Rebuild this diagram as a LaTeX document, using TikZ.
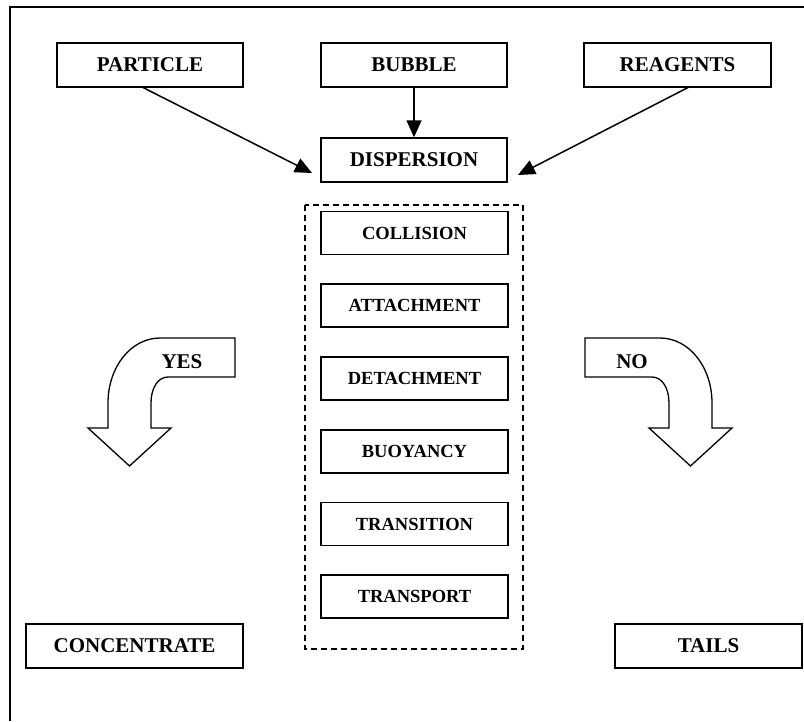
\documentclass[tikz,border=0pt]{standalone}
\usepackage{fontspec}
\setmainfont{Liberation Serif}
\usetikzlibrary{arrows.meta}
\begin{document}
\begin{tikzpicture}[x=1pt,y=-1pt,
  bigbox/.style={draw,line width=1.4pt,minimum height=44pt,inner sep=0pt,font=\bfseries\fontsize{21}{25}\selectfont},
  smallbox/.style={draw,line width=1.4pt,minimum width=187pt,minimum height=43pt,inner sep=0pt,font=\bfseries\fontsize{18.5}{22}\selectfont},
  conn/.style={line width=1.5pt,-{Triangle[length=17pt,width=15pt]}},
  bentarrow/.style={draw,line width=1.3pt,line join=miter},
  lbl/.style={inner sep=0pt,font=\bfseries\fontsize{21}{25}\selectfont}]
\useasboundingbox (0,0) rectangle (804,721);
% outer frame (left and top sides visible)
\draw[line width=1.2pt] (10,721) -- (10,7) -- (804,7);
% top row
\node[bigbox,minimum width=186pt] (particle) at (150,65) {PARTICLE};
\node[bigbox,minimum width=186pt] (bubble) at (414,65) {BUBBLE};
\node[bigbox,minimum width=187pt] (reagents) at (677.5,65) {REAGENTS};
\node[bigbox,minimum width=186pt] (dispersion) at (414,160) {DISPERSION};
% connectors
\coordinate (pstart) at (142,87);
\coordinate (ptip) at (312,173);
\coordinate (rstart) at (689,87);
\coordinate (rtip) at (518,175);
\draw[conn] (pstart) -- (ptip);
\draw[conn] (rstart) -- (rtip);
\draw[conn] (bubble.south) -- (dispersion.north);
% dashed group
\draw[line width=1.3pt,dash pattern=on 6pt off 4pt] (305,205) rectangle (523,649);
\node[smallbox] (collision) at (414.5,233) {COLLISION};
\node[smallbox] (attachment) at (414.5,305.5) {ATTACHMENT};
\node[smallbox] (detachment) at (414.5,378.5) {DETACHMENT};
\node[smallbox] (buoyancy) at (414.5,451.5) {BUOYANCY};
\node[smallbox] (transition) at (414.5,524) {TRANSITION};
\node[smallbox] (transport) at (414.5,596.5) {TRANSPORT};
% outputs
\node[bigbox,minimum width=217pt] (concentrate) at (134.5,646) {CONCENTRATE};
\node[bigbox,minimum width=187pt] (tails) at (708.5,646) {TAILS};
% YES bent arrow
\draw[bentarrow] (235,338) -- (160,338) .. controls (131,338) and (108,367) .. (108,403)
  -- (108,428) -- (88,428) -- (129.5,466) -- (171,428) -- (151,428) -- (151,403)
  .. controls (151,388) and (158,377) .. (168,377) -- (235,377) -- cycle;
\node[lbl] (yes) at (182,362) {YES};
% NO bent arrow (mirror)
\draw[bentarrow] (585,338) -- (660,338) .. controls (689,338) and (712,367) .. (712,403)
  -- (712,428) -- (732,428) -- (690.5,466) -- (649,428) -- (669,428) -- (669,403)
  .. controls (669,388) and (662,377) .. (652,377) -- (585,377) -- cycle;
\node[lbl] (no) at (632,362) {NO};
\end{tikzpicture}
\end{document}
